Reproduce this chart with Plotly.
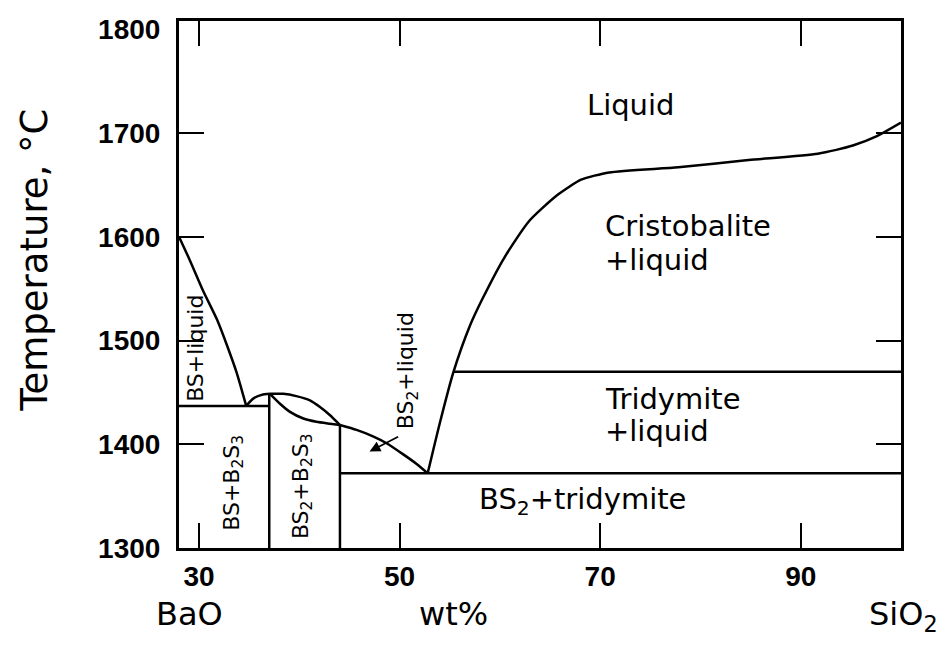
import plotly.graph_objects as go

# ---- data (wt% SiO2, temperature in °C) ----
bs_liq_x = [28.0, 29.1, 30.4, 31.8, 32.8, 33.75, 34.7]
bs_liq_t = [1600, 1577, 1548, 1520, 1495, 1469, 1437]

b2s3_left_x = [34.7, 35.4, 36.25, 37.07]
b2s3_left_t = [1437, 1444, 1447.6, 1448.6]

b2s3_upper_x = [37.07, 38.4, 39.7, 41.06, 42.06, 43.06, 43.9, 44.05]
b2s3_upper_t = [1448.6, 1448.6, 1446.4, 1442.3, 1435.9, 1428, 1420, 1418.5]

b2s3_lower_x = [37.07, 38.07, 39.07, 40.4, 41.7, 43.06, 44.05]
b2s3_lower_t = [1448.6, 1439.1, 1431.2, 1424.8, 1421.7, 1419.8, 1418.5]

bs2_liq_x = [44.05, 45.7, 47.4, 48.7, 50.4, 51.7, 52.8]
bs2_liq_t = [1418.5, 1413.8, 1407.4, 1401, 1390, 1381, 1372]

silica_liq_x = [52.8, 54.0, 55.35, 57.0, 58.2, 60.45, 62.9, 65.7, 68.1,
                70.9, 77.8, 84.8, 91.7, 95.2, 97.6, 100]
silica_liq_t = [1372, 1420, 1469, 1514, 1539, 1580, 1615, 1640, 1655,
                1662, 1667, 1674, 1680, 1688, 1697, 1710]

# isotherms (horizontal lines)
iso_x0 = [28.0, 44.05, 55.35]
iso_x1 = [37.0, 100.0, 100.0]
iso_t = [1437, 1372, 1470]

# compound verticals
vert_x = [37.0, 44.05]
vert_t0 = [1300, 1300]
vert_t1 = [1448.6, 1418.5]

# arrow (tail -> head)
arrow_tail = (50.0, 1408)
arrow_head = (47.0, 1393)

x_ticks = [30, 50, 70, 90]
y_ticks = [1300, 1400, 1500, 1600, 1700, 1800]
y_minor = [1400, 1500, 1600, 1700]

# horizontal region labels: text, x, T, xanchor
h_labels = [
    ("Liquid", 73.0, 1727, "center"),
    ("Cristobalite", 70.3, 1610, "left"),
    ("+liquid", 70.3, 1578, "left"),
    ("Tridymite", 70.3, 1444, "left"),
    ("+liquid", 70.3, 1413, "left"),
    ("BS<sub>2</sub>+tridymite", 68.2, 1345, "center"),
]
# vertical region labels: text, x, T
v_labels = [
    ("BS+liquid", 29.7, 1492),
    ("BS+B<sub>2</sub>S<sub>3</sub>", 33.4, 1363),
    ("BS<sub>2</sub>+B<sub>2</sub>S<sub>3</sub>", 40.3, 1360),
    ("BS<sub>2</sub>+liquid", 50.8, 1471),
]

AX_FONT = "Liberation Sans, Arial, Helvetica, sans-serif"
LB_FONT = "DejaVu Sans, Verdana, sans-serif"
LW = 2.5

fig = go.Figure()

def add_line(xs, ys, smooth=True):
    line = dict(color="black", width=LW)
    if smooth:
        line.update(shape="spline", smoothing=0.6)
    fig.add_trace(go.Scatter(x=xs, y=ys, mode="lines", line=line,
                             showlegend=False, hoverinfo="skip"))

add_line(bs_liq_x, bs_liq_t)
add_line(b2s3_left_x, b2s3_left_t)
add_line(b2s3_upper_x, b2s3_upper_t)
add_line(b2s3_lower_x, b2s3_lower_t)
add_line(bs2_liq_x, bs2_liq_t)
add_line(silica_liq_x, silica_liq_t)

for x0, x1, t in zip(iso_x0, iso_x1, iso_t):
    add_line([x0, x1], [t, t], smooth=False)
for x, t0, t1 in zip(vert_x, vert_t0, vert_t1):
    add_line([x, x], [t0, t1], smooth=False)

for text, x, y, anc in h_labels:
    fig.add_annotation(x=x, y=y, xref="x", yref="y", text=text, showarrow=False,
                       xanchor=anc, yanchor="middle",
                       font=dict(family=LB_FONT, size=29, color="black"))
for text, x, y in v_labels:
    fig.add_annotation(x=x, y=y, xref="x", yref="y", text=text, showarrow=False,
                       textangle=-90, xanchor="center", yanchor="middle",
                       font=dict(family=LB_FONT, size=22, color="black"))

fig.add_annotation(x=arrow_head[0], y=arrow_head[1], ax=arrow_tail[0], ay=arrow_tail[1],
                   xref="x", yref="y", axref="x", ayref="y", text="", showarrow=True,
                   arrowhead=2, arrowsize=1.2, arrowwidth=1.8, arrowcolor="black")

# side / bottom texts (paper coords relative to plot area 179..901 x 14..548)
def px(xp):
    return (xp - 179) / 722

def py(yp):
    return (548 - yp) / 534

side_texts = [
    ("Temperature, °C", 35, 257, -90, 37),
    ("BaO", 189, 615, 0, 32),
    ("wt%", 453, 615, 0, 32),
    ("SiO<sub>2</sub>", 903, 617, 0, 32),
]
for text, xp, yp, ang, size in side_texts:
    fig.add_annotation(x=px(xp), y=py(yp), xref="paper", yref="paper", text=text,
                       textangle=ang, showarrow=False, xanchor="center", yanchor="middle",
                       font=dict(family=LB_FONT, size=size, color="black"))

# page body has an 8px margin: shrink the figure so the plot area lands at 179..901 x 14..548
fig.update_layout(
    width=940, height=644,
    margin=dict(l=171, r=47, t=6, b=104),
    paper_bgcolor="white", plot_bgcolor="white",
    xaxis=dict(range=[28, 100], tickvals=x_ticks, ticks="inside", ticklen=25, tickwidth=2,
               tickcolor="black", showline=True, linewidth=3, linecolor="black", mirror="ticks",
               showgrid=False, zeroline=False, ticklabelstandoff=1,
               tickfont=dict(family=AX_FONT, size=28, color="black", weight="bold")),
    yaxis=dict(range=[1300, 1808], tickvals=y_ticks, ticks="", showline=True, linewidth=3,
               linecolor="black", mirror="ticks", showgrid=False, zeroline=False,
               ticklabelstandoff=10,
               minor=dict(tickvals=y_minor, ticks="inside", ticklen=25, tickwidth=2, tickcolor="black",
                          showgrid=False),
               tickfont=dict(family=AX_FONT, size=28, color="black", weight="bold")),
)

fig.write_html("out.html")
